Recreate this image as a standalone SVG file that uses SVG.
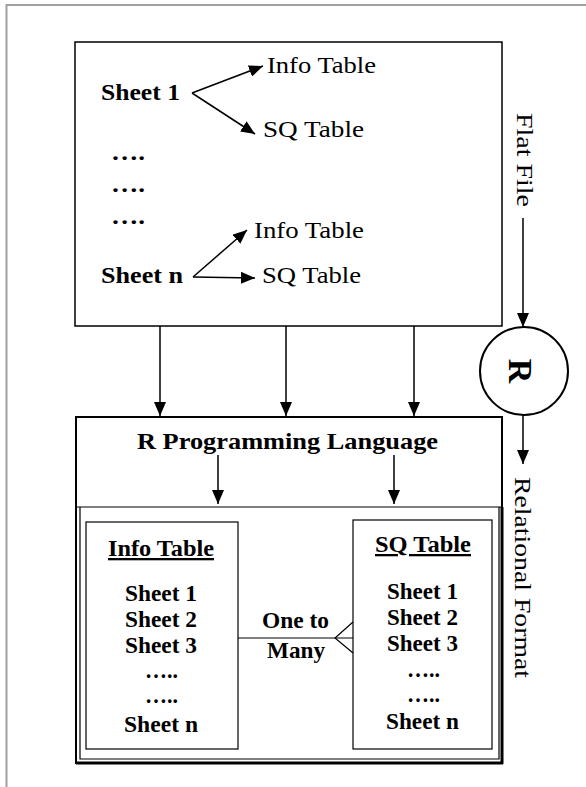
<svg xmlns="http://www.w3.org/2000/svg" width="586" height="787" viewBox="0 0 586 787">
<style>
  text { font-family: "Liberation Serif", "Times New Roman", serif; fill: #000; }
  .b { font-weight: bold; }
  .t { font-size: 23px; }
  .box { fill: #fff; stroke: #000; stroke-width: 1.5; }
  .thin { fill: none; stroke: #000; stroke-width: 1.2; }
  .con { fill: none; stroke: #000; stroke-width: 1.5; }
  .arr { marker-end: url(#ah); }
</style>
<defs>
  <marker id="ah" viewBox="0 0 14 12" refX="14" refY="6" markerWidth="14" markerHeight="12" markerUnits="userSpaceOnUse" orient="auto">
    <path d="M0,0 L14,6 L0,12 z" fill="#000"/>
  </marker>
</defs>
<rect width="586" height="787" fill="#fff"/>
<!-- outer page frame -->
<path d="M586,5 L6.5,5 L6.5,787" fill="none" stroke="#a0a0a0" stroke-width="2"/>

<g id="flatfile">
  <rect class="box" x="75" y="42" width="427" height="284"/>
  <text class="t b" x="101" y="100" textLength="79" lengthAdjust="spacingAndGlyphs">Sheet 1</text>
  <text class="t" x="267" y="73" textLength="109" lengthAdjust="spacingAndGlyphs">Info Table</text>
  <text class="t" x="263" y="137" textLength="101" lengthAdjust="spacingAndGlyphs">SQ Table</text>
  <text class="t b" x="111" y="160" textLength="34" lengthAdjust="spacingAndGlyphs">….</text>
  <text class="t b" x="111" y="192" textLength="34" lengthAdjust="spacingAndGlyphs">….</text>
  <text class="t b" x="111" y="224" textLength="34" lengthAdjust="spacingAndGlyphs">….</text>
  <text class="t" x="254" y="238" textLength="110" lengthAdjust="spacingAndGlyphs">Info Table</text>
  <text class="t b" x="101" y="283" textLength="82" lengthAdjust="spacingAndGlyphs">Sheet n</text>
  <text class="t" x="262" y="283" textLength="99" lengthAdjust="spacingAndGlyphs">SQ Table</text>
</g>

<g id="rcircle">
  <circle cx="524" cy="371" r="44" fill="#fff" stroke="#000" stroke-width="2"/>
  <text class="b" transform="translate(509,371) rotate(90)" x="0" y="0" text-anchor="middle" font-size="34">R</text>
</g>

<g id="labels">
  <text class="t" transform="translate(517,113) rotate(90)" x="0" y="0" textLength="94" lengthAdjust="spacingAndGlyphs">Flat File</text>
  <text class="t" transform="translate(515,477) rotate(90)" x="0" y="0" textLength="201" lengthAdjust="spacingAndGlyphs">Relational Format</text>
</g>

<g id="rlang">
  <rect x="76" y="417" width="426" height="346" fill="#fff" stroke="#000" stroke-width="2"/>
  <line x1="76" y1="507" x2="502" y2="507" class="thin"/>
  <path d="M80,507 L80,759 L499,759 L499,507" class="thin"/>
  <line x1="502" y1="507" x2="502" y2="764" stroke="#000" stroke-width="3"/>
  <line x1="76" y1="763" x2="503" y2="763" stroke="#000" stroke-width="3"/>
  <text class="t b" x="137" y="449" textLength="301" lengthAdjust="spacingAndGlyphs">R Programming Language</text>
</g>

<g id="infotable">
  <rect class="thin" x="86" y="522" width="152" height="227" fill="#fff"/>
  <text class="t b" x="108" y="556" textLength="106" lengthAdjust="spacingAndGlyphs" text-decoration="underline">Info Table</text>
  <text class="t b" x="125" y="601" textLength="72" lengthAdjust="spacingAndGlyphs">Sheet 1</text>
  <text class="t b" x="125" y="627" textLength="72" lengthAdjust="spacingAndGlyphs">Sheet 2</text>
  <text class="t b" x="125" y="653" textLength="72" lengthAdjust="spacingAndGlyphs">Sheet 3</text>
  <text class="t b" x="145" y="678" textLength="33" lengthAdjust="spacingAndGlyphs">…..</text>
  <text class="t b" x="145" y="703" textLength="33" lengthAdjust="spacingAndGlyphs">…..</text>
  <text class="t b" x="124" y="732" textLength="74" lengthAdjust="spacingAndGlyphs">Sheet n</text>
</g>

<g id="sqtable">
  <rect class="thin" x="353" y="520" width="139" height="229" fill="#fff"/>
  <text class="t b" x="375" y="552" textLength="96" lengthAdjust="spacingAndGlyphs" text-decoration="underline">SQ Table</text>
  <text class="t b" x="387" y="599" textLength="71" lengthAdjust="spacingAndGlyphs">Sheet 1</text>
  <text class="t b" x="387" y="625" textLength="71" lengthAdjust="spacingAndGlyphs">Sheet 2</text>
  <text class="t b" x="387" y="651" textLength="71" lengthAdjust="spacingAndGlyphs">Sheet 3</text>
  <text class="t b" x="407" y="677" textLength="33" lengthAdjust="spacingAndGlyphs">…..</text>
  <text class="t b" x="407" y="702" textLength="33" lengthAdjust="spacingAndGlyphs">…..</text>
  <text class="t b" x="386" y="729" textLength="73" lengthAdjust="spacingAndGlyphs">Sheet n</text>
</g>

<g id="connectors">
  <line class="con arr" x1="192" y1="93" x2="263" y2="66"/>
  <line class="con arr" x1="192" y1="93" x2="255" y2="134"/>
  <line class="con arr" x1="193" y1="277" x2="247" y2="230"/>
  <line class="con arr" x1="193" y1="277" x2="255" y2="278"/>
  <line class="con arr" x1="160" y1="326" x2="160" y2="416"/>
  <line class="con arr" x1="286" y1="326" x2="286" y2="416"/>
  <line class="con arr" x1="414" y1="326" x2="414" y2="416"/>
  <line class="con arr" x1="523" y1="218" x2="523" y2="327" stroke-width="2"/>
  <line class="con arr" x1="523" y1="415" x2="523" y2="464" stroke-width="2"/>
  <line class="con arr" x1="218" y1="455" x2="218" y2="504"/>
  <line class="con arr" x1="394" y1="455" x2="394" y2="504"/>
  <line class="thin" x1="238" y1="638" x2="353" y2="638"/>
  <path class="thin" d="M353,622 L335,638 L353,653"/>
  <text class="t b" x="262" y="628" textLength="67" lengthAdjust="spacingAndGlyphs">One to</text>
  <text class="t b" x="267" y="658" textLength="58" lengthAdjust="spacingAndGlyphs">Many</text>
</g>
</svg>
